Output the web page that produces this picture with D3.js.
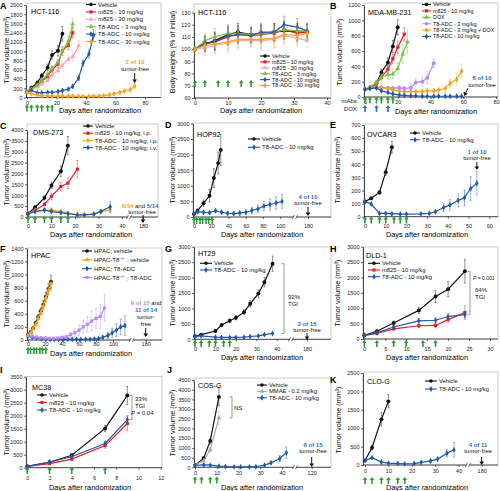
<!DOCTYPE html>
<html>
<head>
<meta charset="utf-8">
<script src="https://cdn.jsdelivr.net/npm/d3@7"></script>
<style>
  body { margin: 0; background: #fff; }
  svg { font-family: "Liberation Sans", Arial, sans-serif; }
</style>
</head>
<body>
<div id="fig"></div>
<script>
// ---------- data ----------
// A: HCT-116 tumor volume
var aVehDays = [0, 3, 7, 10, 14, 17, 21, 24];
var aVeh = [120, 210, 320, 470, 650, 920, 1010, 1380];
var aVehErr = [20, 30, 40, 50, 70, 90, 110, 160];
var aM10Days = [0, 3, 7, 10, 14, 17, 21, 24, 28, 31];
var aM10 = [120, 190, 260, 350, 460, 600, 720, 1010, 1130, 1400];
var aM10Err = [20, 25, 30, 40, 50, 60, 70, 90, 100, 110];
var aM30Days = [0, 3, 7, 10, 14, 17, 21, 24, 28, 31, 35];
var aM30 = [110, 170, 230, 290, 370, 490, 580, 700, 820, 880, 1120];
var aM30Err = [20, 25, 30, 35, 40, 50, 60, 70, 80, 90, 110];
var aT3Days = [0, 3, 7, 10, 14, 17, 21, 24, 28, 31];
var aT3 = [120, 180, 270, 380, 500, 630, 770, 1000, 1220, 1590];
var aT3Err = [20, 25, 30, 40, 50, 60, 70, 90, 100, 120];
var aT10Days = [0, 3, 7, 10, 14, 17, 21, 24, 28, 31, 35, 38, 42, 45];
var aT10 = [120, 150, 100, 100, 110, 110, 130, 150, 180, 240, 420, 740, 940, 1340];
var aT10Err = [20, 20, 15, 15, 20, 20, 25, 30, 30, 40, 50, 70, 90, 130];
var aT30Days = [0, 3, 7, 10, 14, 17, 21, 24, 28, 31, 35, 38, 42, 45, 49, 52, 56, 59, 63, 66, 70, 73];
var aT30 = [110, 80, 50, 40, 35, 30, 30, 30, 30, 30, 25, 25, 25, 30, 30, 40, 60, 80, 110, 140, 170, 250];
var aT30Err = [15, 10, 10, 10, 10, 10, 10, 10, 10, 10, 10, 10, 10, 10, 10, 15, 20, 25, 30, 40, 50, 60];

// A (right): HCT-116 body weights
var bwDays = [0, 3, 6, 10, 13, 17, 20, 24, 27, 31, 34];
var bwVeh = [100, 104, 107, 112, 114, 112, 113, 114, 115, 114, 114];
var bwM10 = [100, 104, 106, 110, 112, 111, 112, 113, 116, 113, 114];
var bwM30 = [100, 101, 103, 105, 107, 107, 107, 108, 111, 109, 107];
var bwT3 = [100, 107, 110, 113, 113, 112, 113, 114, 116, 115, 115];
var bwT10 = [100, 105, 106, 111, 112, 111, 114, 114, 120, 118, 115];
var bwT30 = [100, 103, 104, 106, 108, 108, 108, 109, 112, 111, 113];
var bwErr = [2, 6, 7, 7, 7, 6, 7, 7, 7, 7, 6];

// B: MDA-MB-231
var bVehDays = [0, 3, 7, 10, 14, 17, 20];
var bVeh = [100, 120, 180, 320, 450, 660, 910];
var bVehErr = [10, 20, 30, 40, 60, 80, 100];
var bM10Days = [0, 3, 7, 10, 14, 17, 20, 24];
var bM10 = [100, 120, 170, 260, 360, 500, 650, 820];
var bM10Err = [10, 20, 25, 35, 45, 60, 80, 90];
var bDoxDays = [0, 3, 7, 10, 14, 17, 20, 23, 26];
var bDox = [100, 130, 190, 260, 290, 300, 370, 560, 720];
var bDoxErr = [10, 20, 30, 40, 50, 60, 70, 120, 150];
var bT3Days = [0, 3, 7, 10, 14, 17, 21, 24, 28, 31, 35, 38, 42];
var bT3 = [100, 120, 130, 125, 120, 115, 120, 110, 120, 190, 200, 250, 440];
var bT3Err = [10, 15, 20, 20, 20, 20, 25, 30, 40, 50, 60, 80, 60];
var bLateDays = [0, 3, 7, 10, 14, 17, 21, 24, 28, 31, 35, 38, 42, 45, 49, 52, 56, 59];
var bT3Dox = [100, 120, 130, 120, 110, 90, 80, 70, 70, 70, 70, 80, 80, 90, 110, 180, 230, 340];
var bT3DoxErr = [10, 15, 20, 20, 20, 20, 20, 25, 25, 25, 30, 30, 30, 40, 50, 60, 70, 90];
var bT10 = [100, 110, 120, 80, 60, 40, 25, 20, 15, 15, 10, 10, 10, 10, 10, 10, 10, 10];
var bT10Err = [10, 15, 20, 15, 10, 10, 5, 5, 5, 5, 5, 5, 5, 5, 5, 5, 5, 5];

// C: DMS-273
var cVehDays = [0, 3, 7, 10, 14, 17];
var cVeh = [150, 450, 880, 1450, 2100, 3280];
var cVehErr = [30, 60, 100, 150, 250, 420];
var cM10Days = [0, 3, 7, 10, 14, 17, 21];
var cM10 = [150, 300, 580, 950, 1400, 1560, 2200];
var cM10Err = [30, 50, 80, 150, 200, 250, 400];
var cT8Days = [0, 3, 7, 10, 14, 17, 21, 24, 28, 31, 35];
var cT8ip = [150, 300, 310, 330, 250, 190, 100, 100, 140, 220, 350];
var cT8ipErr = [30, 50, 60, 60, 50, 50, 30, 30, 40, 60, 100];
var cT8iv = [150, 250, 320, 250, 200, 150, 100, 100, 130, 260, 470];
var cT8ivErr = [30, 50, 60, 60, 50, 50, 30, 30, 40, 80, 250];

// D: HOP92
var dVehDays = [0, 4, 11, 18, 23, 28, 31];
var dVeh = [100, 200, 440, 680, 1250, 1730, 2150];
var dVehErr = [30, 60, 100, 200, 300, 350, 500];
var dT10Days = [0, 4, 11, 18, 25, 32, 39, 46, 53, 60, 67, 74, 81, 88, 95, 102];
var dT10 = [100, 170, 150, 140, 200, 150, 120, 110, 130, 150, 210, 260, 350, 400, 450, 500];
var dT10Err = [30, 50, 50, 50, 60, 50, 50, 50, 60, 80, 100, 120, 150, 180, 200, 220];

// E: OVCAR3
var eVehDays = [0, 3, 7, 10, 13];
var eVeh = [115, 140, 185, 340, 530];
var eVehErr = [10, 10, 15, 25, 45];
var eT10Days = [0, 3, 7, 10, 13, 17, 20, 27, 31, 34, 38, 41, 45, 48, 51, 54];
var eT10 = [115, 97, 25, 25, 23, 20, 20, 22, 25, 38, 70, 90, 125, 145, 215, 255];
var eT10Err = [10, 10, 5, 5, 5, 5, 5, 5, 8, 10, 30, 40, 50, 60, 90, 90];

// F: HPAC
var fVehDays = [0, 3, 6, 9, 12, 15, 18, 21, 24, 27];
var fVeh = [80, 120, 180, 260, 350, 440, 540, 660, 780, 890];
var fVehErr = [10, 15, 20, 30, 40, 50, 60, 70, 80, 100];
var fKoVeh = [70, 110, 170, 240, 330, 420, 520, 640, 760, 860];
var fKoVehErr = [10, 15, 20, 30, 40, 50, 60, 70, 80, 100];
var fT8Days = [0, 5, 10, 16, 21, 26, 31, 36, 42, 47, 52, 57, 62, 68, 73, 78, 83, 88, 94, 99, 104, 109, 114];
var fT8 = [60, 40, 30, 20, 15, 10, 10, 10, 10, 10, 10, 10, 10, 10, 10, 15, 20, 40, 70, 110, 150, 200, 220];
var fT8Err = [10, 10, 5, 5, 5, 5, 5, 5, 5, 5, 5, 5, 5, 5, 5, 10, 15, 30, 50, 70, 100, 120, 150];
var fKoT8Days = [0, 5, 10, 15, 20, 25, 30, 35, 40, 45, 50, 55, 60, 65, 70, 75, 80, 85, 90];
var fKoT8 = [70, 60, 45, 35, 30, 25, 25, 30, 40, 50, 80, 110, 150, 200, 240, 290, 330, 360, 490];
var fKoT8Err = [10, 10, 10, 10, 10, 10, 10, 15, 20, 25, 40, 60, 80, 100, 120, 150, 150, 180, 200];

// G: HT29
var gDays = [0, 3, 10, 13, 17, 20, 24, 27, 31, 34, 38];
var gVeh = [100, 150, 270, 460, 600, 700, 880, 1150, 1480, 1850, 2450];
var gVehErr = [20, 30, 40, 50, 60, 70, 80, 100, 120, 150, 250];
var gT10 = [100, 110, 70, 60, 60, 60, 70, 90, 110, 150, 190];
var gT10Err = [10, 15, 10, 10, 10, 10, 10, 15, 20, 25, 30];

// H: DLD-1
var hDays = [0, 3, 7, 13, 17, 20, 24];
var hVeh = [120, 250, 520, 930, 1380, 1620, 2200];
var hVehErr = [20, 40, 60, 100, 200, 250, 380];
var hM10 = [120, 180, 330, 430, 440, 630, 860];
var hM10Err = [20, 30, 40, 60, 80, 100, 220];
var hT10 = [120, 200, 390, 590, 610, 730, 790];
var hT10Err = [20, 30, 50, 80, 80, 90, 100];

// I: MC38
var iDays = [0, 2, 4, 7, 9];
var iVeh = [50, 210, 480, 1510, 2780];
var iVehErr = [10, 30, 60, 120, 350];
var iM10 = [50, 160, 330, 850, 1700];
var iM10Err = [10, 20, 50, 100, 280];
var iT10 = [50, 220, 420, 930, 1850];
var iT10Err = [10, 30, 50, 90, 150];

// J: COS-G
var jVehDays = [0, 4, 7, 11];
var jVeh = [100, 470, 1360, 3630];
var jVehErr = [20, 60, 150, 450];
var jMmae = [100, 350, 900, 2550];
var jMmaeErr = [20, 50, 120, 350];
var jT10Days = [0, 4, 7, 11, 14, 18, 21, 25, 28, 32, 35, 39, 42];
var jT10 = [100, 130, 110, 60, 40, 20, 20, 20, 30, 110, 230, 450, 750];
var jT10Err = [20, 30, 30, 20, 15, 10, 10, 10, 20, 50, 80, 150, 300];

// K: CLO-G
var kVehDays = [0, 3, 7, 10];
var kVeh = [120, 470, 1240, 1730];
var kVehErr = [20, 60, 180, 180];
var kT10Days = [0, 3, 7, 10, 14, 17, 21, 24, 28, 31, 35, 38];
var kT10 = [120, 200, 80, 50, 40, 30, 40, 70, 110, 160, 320, 410];
var kT10Err = [20, 30, 20, 15, 10, 10, 10, 20, 40, 60, 100, 200];

// dosing days
var dose6 = [0, 3, 7, 10, 14, 17];
var dose7 = [0, 3, 7, 10, 14, 17, 20];

// ---------- colours ----------
var BLACK = "#111", RED = "#e31f26", PINK = "#f3a9b9", GREEN = "#7cc242", BLUE = "#1f59a8",
    ORANGE = "#f7a21b", PURPLE = "#b98af0", GREY = "#a8a8a8", DOSE = "#2b9b35", NOTEBLUE = "#2f6fc0";

var TV = "Tumor volume (mm\u00b3)";

var svg = d3.select("#fig").append("svg")
    .attr("width", 500)
    .attr("height", 491);

function ser(label, days, vals, err, color, sym) {
    return { label: label, days: days, vals: vals, err: err, color: color, sym: sym };
}

var symbols = {
    circle: d3.symbolCircle, square: d3.symbolSquare,
    triangle: d3.symbolTriangle, diamond: d3.symbolDiamond
};

// ---------- panels ----------
var panels = [
  { letter: "A", lp: [0, 9], box: [26, 3, 161], yBot: 97.5, yTop: 5,
    xDom: [0, 80], xRng: [27, 145], xTicks: [0, 20, 40, 60, 80], pad: 1.5,
    yDom: [0, 2000], yTicks: d3.range(0, 2001, 200),
    title: "HCT-116", tp: [31, 14], xlab: [100, 113], ylab: [6, 50, TV],
    leg: [86, 4.5, 7.4, 6, 10],
    series: [
      ser("Vehicle", aVehDays, aVeh, aVehErr, BLACK, "circle"),
      ser("m825 - 10 mg/kg", aM10Days, aM10, aM10Err, RED, "square"),
      ser("m825 - 30 mg/kg", aM30Days, aM30, aM30Err, PINK, "triangle"),
      ser("T8-ADC - 3 mg/kg", aT3Days, aT3, aT3Err, GREEN, "triangle"),
      ser("T8-ADC - 10 mg/kg", aT10Days, aT10, aT10Err, BLUE, "diamond"),
      ser("T8-ADC - 30 mg/kg", aT30Days, aT30, aT30Err, ORANGE, "diamond")],
    doses: [{ days: dose6, y: 104.5, color: DOSE }],
    notes: [{ x: 135, y: 64, parts: [["2 of 10", ORANGE, 1]] }, { x: 135, y: 71, parts: [["tumor-free"]] }],
    arrows: [{ day: 73, y1: 73, y2: 83 }] },

  { letter: "", box: [194, 4, 331], yBot: 98, yTop: 12.5,
    xDom: [0, 40], xRng: [195, 327], xTicks: [0, 10, 20, 30, 40], pad: 1.5,
    yDom: [60, 130], yTicks: d3.range(60, 131, 10),
    title: "HCT-116", tp: [198, 15], xlab: [261, 113], ylab: [172, 52, "Body weights (% of initial)"],
    leg: [260, 56, 5.9, 5.5, 10],
    series: [
      ser("Vehicle", bwDays, bwVeh, bwErr, BLACK, "circle"),
      ser("m825 - 10 mg/kg", bwDays, bwM10, bwErr, RED, "square"),
      ser("m825 - 30 mg/kg", bwDays, bwM30, bwErr, PINK, "triangle"),
      ser("T8-ADC - 3 mg/kg", bwDays, bwT3, bwErr, GREEN, "triangle"),
      ser("T8-ADC - 10 mg/kg", bwDays, bwT10, bwErr, BLUE, "diamond"),
      ser("T8-ADC - 30 mg/kg", bwDays, bwT30, bwErr, ORANGE, "diamond")],
    doses: [{ days: dose6, y: 80, color: DOSE }],
    notes: [], arrows: [] },

  { letter: "B", lp: [330, 9], box: [364, 3, 498], yBot: 97, yTop: 5,
    xDom: [0, 80], xRng: [365, 496], xTicks: [0, 20, 40, 60, 80], pad: 1,
    yDom: [0, 1200], yTicks: d3.range(0, 1201, 200),
    title: "MDA-MB-231", tp: [368, 15], xlab: [436, 113.5], ylab: [339, 52, TV],
    leg: [422, 4.5, 6.4, 5.4, 9],
    series: [
      ser("Vehicle", bVehDays, bVeh, bVehErr, BLACK, "circle"),
      ser("m825 - 10 mg/kg", bM10Days, bM10, bM10Err, RED, "square"),
      ser("DOX", bDoxDays, bDox, bDoxErr, GREEN, "triangle"),
      ser("T8-ADC - 3 mg/kg", bT3Days, bT3, bT3Err, PURPLE, "circle"),
      ser("T8-ADC - 3 mg/kg + DOX", bLateDays, bT3Dox, bT3DoxErr, ORANGE, "diamond"),
      ser("T8-ADC - 10 mg/kg", bLateDays, bT10, bT10Err, BLUE, "diamond")],
    doses: [{ days: dose6, y: 96.5, color: DOSE }, { days: [0, 7, 14], y: 105, color: "#2d6cc0" }],
    notes: [{ x: 358.5, y: 102.5, anchor: "end", parts: [["mAbs:"]] },
            { x: 358.5, y: 111, anchor: "end", parts: [["DOX:"]] },
            { x: 482, y: 80, parts: [["6 of 10", NOTEBLUE, 1]] }, { x: 482, y: 87, parts: [["tumor-free"]] }],
    arrows: [{ day: 63, y1: 88, y2: 96, slant: -4 }] },

  { letter: "C", lp: [0, 129], box: [27, 124, 158], yBot: 217, yTop: 130,
    xDom: [0, 43, 180], xRng: [28, 129, 143], xTicks: [0, 10, 20, 30, 40, 180], pad: 5, brk: 129,
    yDom: [0, 4000], yTicks: d3.range(0, 4001, 500),
    title: "DMS-273", tp: [33, 135], xlab: [91, 237], ylab: [6, 172, TV],
    leg: [83, 126, 7.2, 6, 10],
    series: [
      ser("Vehicle", cVehDays, cVeh, cVehErr, BLACK, "circle"),
      ser("m825 - 10 mg/kg; i.p.", cM10Days, cM10, cM10Err, RED, "square"),
      ser("T8-ADC - 10 mg/kg; i.p.", cT8Days, cT8ip, cT8ipErr, ORANGE, "diamond"),
      ser("T8-ADC - 10 mg/kg; i.v.", cT8Days, cT8iv, cT8ivErr, BLUE, "diamond")],
    doses: [{ days: dose6, y: 216, color: DOSE }],
    notes: [{ x: 140, y: 207.5, parts: [["6/14", ORANGE, 1], [" and "], ["5/14", NOTEBLUE, 1]] },
            { x: 142, y: 214, parts: [["tumor-free"]] }],
    arrows: [{ day: 180, y1: 215, y2: 223 }] },

  { letter: "D", lp: [165, 128], box: [193, 123, 331], yBot: 217, yTop: 123.5,
    xDom: [0, 117, 180], xRng: [194, 295, 308], xTicks: [0, 20, 40, 60, 80, 100, 180], pad: 5, brk: 295,
    yDom: [0, 3000], yTicks: d3.range(0, 3001, 500),
    title: "HOP92", tp: [197, 137], xlab: [262, 237], ylab: [172, 170, TV],
    leg: [248, 139, 8.3, 6, 12],
    series: [
      ser("Vehicle", dVehDays, dVeh, dVehErr, BLACK, "circle"),
      ser("T8-ADC - 10 mg/kg", dT10Days, dT10, dT10Err, BLUE, "diamond")],
    doses: [{ days: [0, 3, 7, 10, 14, 17, 21], y: 217, color: DOSE }],
    notes: [{ x: 308, y: 198.5, parts: [["4 of 10", NOTEBLUE, 1]] }, { x: 308, y: 205, parts: [["tumor-free"]] }],
    arrows: [{ day: 180, y1: 207, y2: 216 }] },

  { letter: "E", lp: [330, 128], box: [364, 124, 498], yBot: 216.7, yTop: 125,
    xDom: [0, 60], xRng: [365, 489.3], xTicks: [0, 10, 20, 30, 40, 50, 60], pad: 5,
    yDom: [0, 700], yTicks: d3.range(0, 701, 100),
    title: "OVCAR3", tp: [367, 137], xlab: [427, 237], ylab: [337, 170, TV],
    leg: [410, 133, 6.7, 6, 10],
    series: [
      ser("Vehicle", eVehDays, eVeh, eVehErr, BLACK, "circle"),
      ser("T8-ADC - 10 mg/kg", eT10Days, eT10, eT10Err, BLUE, "diamond")],
    doses: [{ days: dose7, y: 216.5, color: DOSE }],
    notes: [{ x: 477, y: 153.5, parts: [["1 of 10", NOTEBLUE, 1]] }, { x: 477, y: 160, parts: [["tumor-free"]] }],
    arrows: [{ day: 54, y1: 162, y2: 170 }] },

  { letter: "F", lp: [0, 252], box: [27, 248, 162], yBot: 340, yTop: 248.3,
    xDom: [0, 122, 180], xRng: [28, 131.7, 145.7], xTicks: [0, 20, 40, 60, 80, 100, 180], pad: 0.5, brk: 131.7,
    yDom: [0, 1400], yTicks: d3.range(0, 1401, 200),
    title: "HPAC", tp: [31, 258], xlab: [91, 356], ylab: [6, 294, TV],
    leg: [82, 251, 8.8, 6, 10],
    series: [
      ser([["HPAC; vehicle"]], fVehDays, fVeh, fVehErr, BLACK, "circle"),
      ser([["HPAC-T8"], ["\u2212/\u2212", 1], [" ; vehicle"]], fVehDays, fKoVeh, fKoVehErr, ORANGE, "triangle"),
      ser([["HPAC; T8-ADC"]], fT8Days, fT8, fT8Err, BLUE, "diamond"),
      ser([["HPAC-T8"], ["\u2212/\u2212", 1], [" ; T8-ADC"]], fKoT8Days, fKoT8, fKoT8Err, PURPLE, "square")],
    doses: [{ days: [0, 3, 7, 10, 14, 17, 21], y: 347, color: DOSE }],
    notes: [{ x: 146, y: 305, parts: [["9 of 15", PURPLE, 1], [" and"]] },
            { x: 146, y: 312, parts: [["11 of 14", NOTEBLUE, 1]] },
            { x: 146, y: 319, parts: [["tumor-"]] }, { x: 146, y: 326, parts: [["free"]] }],
    arrows: [{ day: 180, y1: 328, y2: 337 }] },

  { letter: "G", lp: [165, 252], box: [194, 247, 331], yBot: 339.3, yTop: 246.7,
    xDom: [0, 47, 180], xRng: [195, 291, 307], xTicks: [0, 10, 20, 30, 40, 180], pad: 6, brk: 291,
    yDom: [0, 3000], yTicks: d3.range(0, 3001, 500),
    title: "HT29", tp: [198, 256], xlab: [262, 360], ylab: [172, 293, TV],
    leg: [200, 263.3, 6.7, 6, 12],
    series: [
      ser("Vehicle", gDays, gVeh, gVehErr, BLACK, "circle"),
      ser("T8-ADC - 10 mg/kg", gDays, gT10, gT10Err, BLUE, "diamond")],
    doses: [{ days: dose6, y: 340, color: DOSE }],
    bracket: { x: 284, v1: 190, v2: 2450 },
    notes: [{ x: 288, y: 299, anchor: "start", parts: [["92%"]] }, { x: 288, y: 306, anchor: "start", parts: [["TGI"]] },
            { x: 307, y: 325.5, parts: [["3 of 15", NOTEBLUE, 1]] }, { x: 307, y: 332, parts: [["tumor-free"]] }],
    arrows: [{ day: 180, y1: 333, y2: 340 }] },

  { letter: "H", lp: [330, 252], box: [363, 247, 498], yBot: 339, yTop: 246.7,
    xDom: [0, 30], xRng: [364.3, 490], xTicks: [0, 5, 10, 15, 20, 25, 30], pad: 6,
    yDom: [0, 3000], yTicks: d3.range(0, 3001, 500),
    title: "DLD-1", tp: [366, 258], xlab: [427, 360], ylab: [337, 293, TV],
    leg: [368, 263.3, 6.7, 5.8, 12],
    series: [
      ser("Vehicle", hDays, hVeh, hVehErr, BLACK, "circle"),
      ser("m825 - 10 mg/kg", hDays, hM10, hM10Err, RED, "square"),
      ser("T8-ADC - 10 mg/kg", hDays, hT10, hT10Err, BLUE, "diamond")],
    doses: [{ days: dose6, y: 340, color: DOSE }],
    bracket: { x: 470, v1: 790, v2: 2200 },
    notes: [{ x: 473, y: 280, anchor: "start", size: 5, parts: [["P", null, 0, 1], [" = 0.001"]] },
            { x: 475, y: 292, anchor: "start", parts: [["64%"]] }, { x: 475, y: 299, anchor: "start", parts: [["TGI"]] }],
    arrows: [] },

  { letter: "I", lp: [0, 373], box: [26, 376.7, 162], yBot: 467.7, yTop: 376.7,
    xDom: [0, 12], xRng: [27.3, 160.7], xTicks: [0, 2, 4, 6, 8, 10, 12], pad: 6,
    yDom: [0, 3500], yTicks: d3.range(0, 3501, 500),
    title: "MC38", tp: [32, 390], xlab: [90, 490], ylab: [6, 422, TV],
    leg: [37, 395, 7.5, 6, 10],
    series: [
      ser("Vehicle", iDays, iVeh, iVehErr, BLACK, "circle"),
      ser("m825 - 10 mg/kg", iDays, iM10, iM10Err, RED, "square"),
      ser("T8-ADC - 10 mg/kg", iDays, iT10, iT10Err, BLUE, "diamond")],
    doses: [{ days: [0, 2, 4, 7], y: 467, color: DOSE }],
    bracket: { x: 132, v1: 1850, v2: 2780 },
    notes: [{ x: 135, y: 401, anchor: "start", parts: [["33%"]] }, { x: 135, y: 408, anchor: "start", parts: [["TGI"]] },
            { x: 131, y: 415, anchor: "start", parts: [["P", null, 0, 1], [" = 0.04"]] }],
    arrows: [] },

  { letter: "J", lp: [167, 373], box: [194, 378, 331], yBot: 467.3, yTop: 380,
    xDom: [0, 46, 120], xRng: [195, 295, 311.7], xTicks: [0, 10, 20, 30, 40, 120], pad: 2, brk: 295,
    yDom: [0, 4500], yTicks: d3.range(0, 4501, 500),
    title: "COS-G", tp: [198, 388], xlab: [262, 490], ylab: [172, 423, TV],
    leg: [257, 385, 6.4, 5.8, 10],
    series: [
      ser("Vehicle", jVehDays, jVeh, jVehErr, BLACK, "circle"),
      ser("MMAE - 0.2 mg/kg", jVehDays, jMmae, jMmaeErr, GREY, "triangle"),
      ser("T8-ADC - 10 mg/kg", jT10Days, jT10, jT10Err, BLUE, "diamond")],
    doses: [{ days: [0, 3, 7, 10], y: 476.5, color: DOSE }],
    bracket: { x: 232, v1: 2550, v2: 3630 },
    notes: [{ x: 234, y: 410, anchor: "start", parts: [["NS"]] },
            { x: 313, y: 446.5, parts: [["6 of 15", NOTEBLUE, 1]] }, { x: 313, y: 453, parts: [["tumor-free"]] }],
    arrows: [{ day: 120, y1: 457, y2: 467 }] },

  { letter: "K", lp: [330, 383], box: [363, 372, 498], yBot: 465, yTop: 373,
    xDom: [0, 44, 180], xRng: [365, 468, 481.7], xTicks: [0, 10, 20, 30, 40, 180], pad: 2, brk: 468,
    yDom: [0, 2500], yTicks: d3.range(0, 2501, 500),
    title: "CLO-G", tp: [367, 384], xlab: [427, 490], ylab: [338, 420, TV],
    leg: [425, 381, 8, 5.8, 12],
    series: [
      ser("Vehicle", kVehDays, kVeh, kVehErr, BLACK, "circle"),
      ser("T8-ADC - 10 mg/kg", kT10Days, kT10, kT10Err, BLUE, "diamond")],
    doses: [{ days: dose6, y: 477, color: DOSE }],
    notes: [{ x: 478, y: 446.5, parts: [["4 of 11", NOTEBLUE, 1]] }, { x: 478, y: 453, parts: [["tumor-free"]] }],
    arrows: [{ day: 180, y1: 457, y2: 465 }] }
];

// ---------- drawing ----------
function addText(g, n) {
    var t = g.append("text")
        .attr("x", n.x).attr("y", n.y)
        .attr("font-size", n.size || 6)
        .attr("text-anchor", n.anchor || "middle");
    n.parts.forEach(function(p) {
        t.append("tspan").text(p[0])
            .attr("fill", p[1] || BLACK)
            .attr("font-weight", p[2] ? "bold" : null)
            .attr("font-style", p[3] ? "italic" : null);
    });
}

function drawPanel(p) {
    var g = svg.append("g");
    var x = d3.scaleLinear().domain(p.xDom).range(p.xRng);
    var y = d3.scaleLinear().domain(p.yDom).range([p.yBot, p.yTop]);

    // grey frame
    g.append("rect")
        .attr("x", p.box[0]).attr("y", p.box[1])
        .attr("width", p.box[2] - p.box[0]).attr("height", p.yBot - p.box[1])
        .attr("fill", "none").attr("stroke", "#b5b5b5").attr("stroke-width", 0.7);

    // axes
    var gx = g.append("g")
        .attr("transform", `translate(0, ${p.yBot})`)
        .call(d3.axisBottom(x).tickValues(p.xTicks).tickSize(2).tickPadding(p.pad).tickSizeOuter(0));
    gx.select(".domain").remove();
    gx.append("line").attr("x1", p.box[0]).attr("x2", p.box[2]).attr("stroke", BLACK).attr("stroke-width", 0.7);

    var gy = g.append("g")
        .attr("transform", `translate(${p.box[0]}, 0)`)
        .call(d3.axisLeft(y).tickValues(p.yTicks).tickSize(2).tickPadding(1.5).tickSizeOuter(0).tickFormat(d3.format("d")));
    gy.select(".domain").attr("stroke-width", 0.7);

    [gx, gy].forEach(function(a) {
        a.selectAll("text").attr("font-size", 5.5).attr("fill", "#222").attr("font-family", null);
        a.selectAll(".tick line").attr("stroke-width", 0.6);
    });

    // axis break
    if (p.brk) {
        g.append("rect").attr("x", p.brk - 1.6).attr("y", p.yBot - 2).attr("width", 3.2).attr("height", 4).attr("fill", "#fff");
        [-1.6, 1.6].forEach(function(o) {
            g.append("line")
                .attr("x1", p.brk + o - 1).attr("y1", p.yBot + 2)
                .attr("x2", p.brk + o + 1).attr("y2", p.yBot - 2)
                .attr("stroke", BLACK).attr("stroke-width", 0.6);
        });
    }

    // series: error bars, lines, markers
    var line = d3.line().x(d => x(d[0])).y(d => y(d[1]));
    p.series.forEach(function(s) {
        var pts = d3.zip(s.days, s.vals, s.err);
        var eg = g.append("g").attr("stroke", s.color).attr("stroke-width", 0.5).attr("opacity", 0.9);
        pts.forEach(function(d) {
            var cx = x(d[0]), lo = y(Math.max(p.yDom[0], d[1] - d[2])), hi = y(d[1] + d[2]);
            eg.append("line").attr("x1", cx).attr("x2", cx).attr("y1", lo).attr("y2", hi);
            eg.append("line").attr("x1", cx - 1).attr("x2", cx + 1).attr("y1", hi).attr("y2", hi);
            eg.append("line").attr("x1", cx - 1).attr("x2", cx + 1).attr("y1", lo).attr("y2", lo);
        });
        g.append("path").datum(pts).attr("d", line)
            .attr("fill", "none").attr("stroke", s.color).attr("stroke-width", 1.2);
        g.selectAll(null).data(pts).enter().append("path")
            .attr("transform", d => `translate(${x(d[0])}, ${y(d[1])})`)
            .attr("d", d3.symbol().type(symbols[s.sym]).size(s.sym === "circle" ? 12 : 10))
            .attr("fill", s.color);
    });

    // legend
    var L = p.leg;
    p.series.forEach(function(s, i) {
        var ly = L[1] + i * L[2];
        g.append("line").attr("x1", L[0]).attr("x2", L[0] + L[4]).attr("y1", ly).attr("y2", ly)
            .attr("stroke", s.color).attr("stroke-width", 1.1);
        g.append("path").attr("transform", `translate(${L[0] + L[4] / 2}, ${ly})`)
            .attr("d", d3.symbol().type(symbols[s.sym]).size(10)).attr("fill", s.color);
        var t = g.append("text").attr("x", L[0] + L[4] + 2).attr("y", ly + L[3] * 0.35)
            .attr("font-size", L[3]).attr("fill", BLACK);
        var parts = typeof s.label === "string" ? [[s.label]] : s.label;
        parts.forEach(function(pt) {
            var ts = t.append("tspan").text(pt[0]);
            if (pt[1]) ts.attr("font-size", L[3] * 0.7).attr("dy", -2);
            else if (t.selectAll("tspan").size() > 1) ts.attr("dy", 2);
        });
    });

    // dosing arrows
    p.doses.forEach(function(ds) {
        ds.days.forEach(function(d) {
            var cx = x(d), t = ds.y;
            g.append("path")
                .attr("d", `M${cx},${t}L${cx + 2.3},${t + 3}L${cx + 0.8},${t + 3}L${cx + 0.8},${t + 7}` +
                           `L${cx - 0.8},${t + 7}L${cx - 0.8},${t + 3}L${cx - 2.3},${t + 3}Z`)
                .attr("fill", ds.color);
        });
    });

    // bracket (TGI / NS)
    if (p.bracket) {
        var b = p.bracket, b1 = y(b.v1), b2 = y(b.v2);
        g.append("path")
            .attr("d", `M${b.x - 2.5},${b1}H${b.x}V${b2}H${b.x - 2.5}`)
            .attr("fill", "none").attr("stroke", "#555").attr("stroke-width", 0.6);
    }

    // black annotation arrows
    p.arrows.forEach(function(a) {
        var ax = x(a.day), sl = a.slant || 0;
        var tx = ax + sl, ty = a.y2;
        g.append("line").attr("x1", ax).attr("y1", a.y1).attr("x2", tx - sl * 0.3).attr("y2", ty - 2.5)
            .attr("stroke", BLACK).attr("stroke-width", 1);
        g.append("path")
            .attr("d", `M${tx - 2.3},${ty - 3.5}L${tx + 2.3},${ty - 3.5}L${tx},${ty}Z`)
            .attr("fill", BLACK)
            .attr("transform", sl ? `rotate(${-sl * 6}, ${tx}, ${ty})` : null);
    });

    // texts
    p.notes.forEach(n => addText(g, n));
    g.append("text").attr("x", p.tp[0]).attr("y", p.tp[1]).attr("font-size", 7.2).text(p.title);
    g.append("text").attr("x", p.xlab[0]).attr("y", p.xlab[1]).attr("font-size", 7.4)
        .attr("text-anchor", "middle").text("Days after randomization");
    g.append("text").attr("transform", `translate(${p.ylab[0]}, ${p.ylab[1]}) rotate(-90)`)
        .attr("dy", "0.35em").attr("font-size", 7.2).attr("text-anchor", "middle").text(p.ylab[2]);
    if (p.letter) {
        g.append("text").attr("x", p.lp[0]).attr("y", p.lp[1]).attr("font-size", 9)
            .attr("font-weight", "bold").text(p.letter);
    }
}

panels.forEach(drawPanel);
</script>
</body>
</html>
